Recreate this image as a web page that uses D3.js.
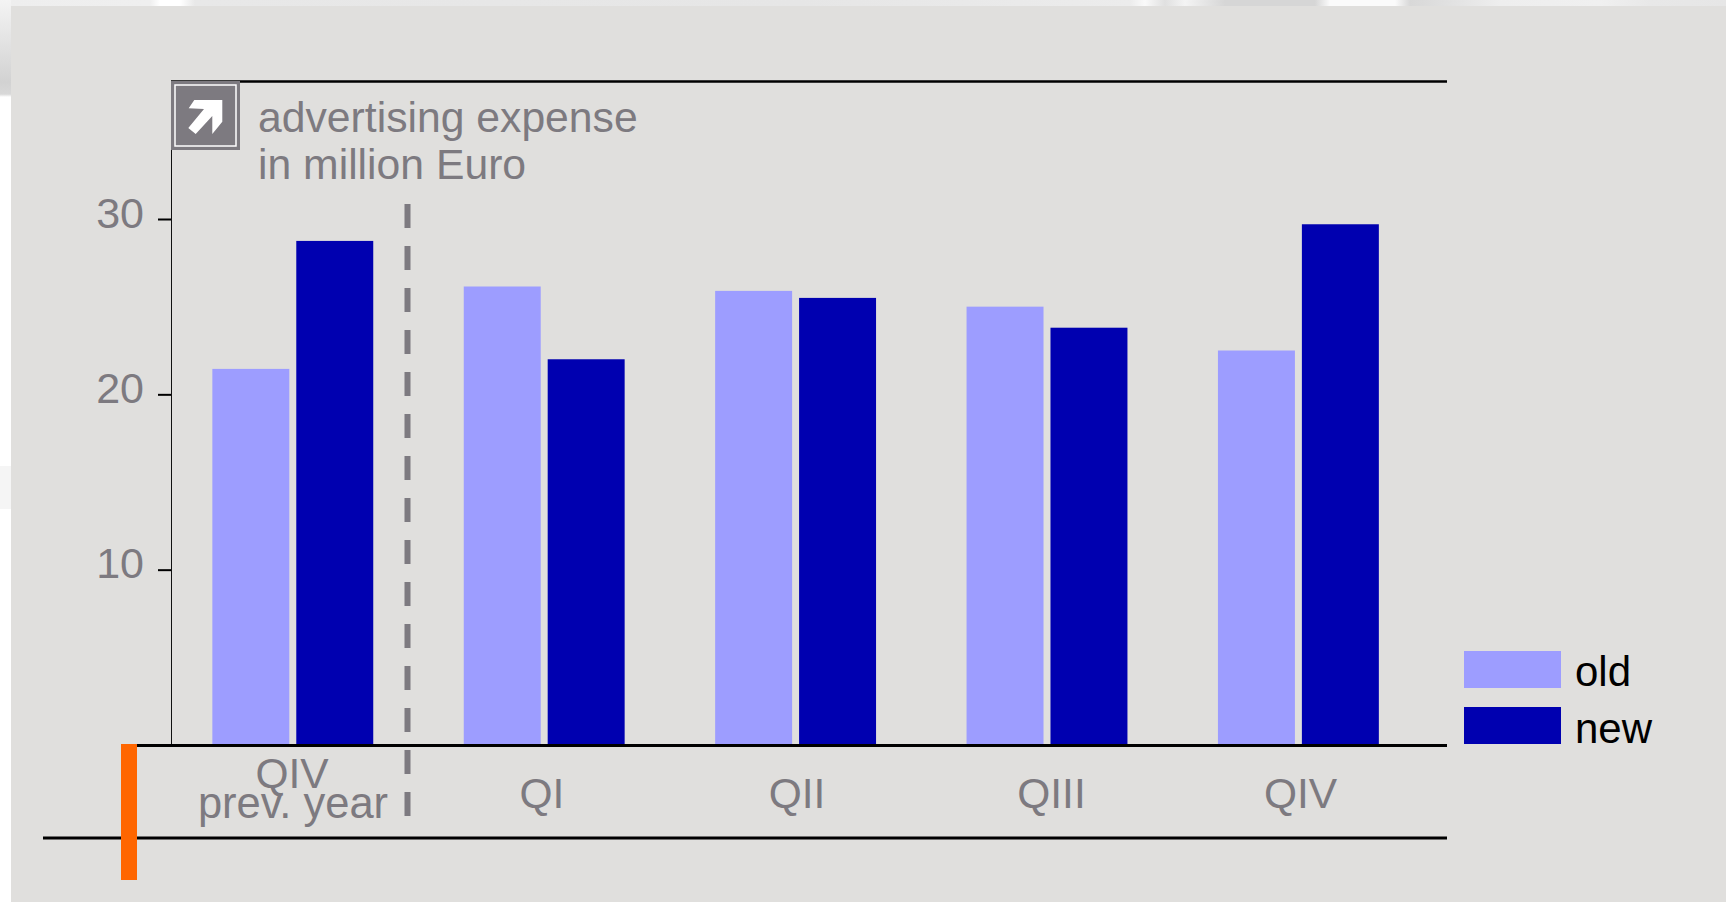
<!DOCTYPE html>
<html><head><meta charset="utf-8">
<script src="https://cdnjs.cloudflare.com/ajax/libs/d3/7.8.5/d3.min.js"></script>
<style>
html,body{margin:0;padding:0;background:#fff;overflow:hidden}
text{font-family:"Liberation Sans",Arial,sans-serif}
</style></head><body><div id="chart"></div>
<script>
const categories = ["QIV prev. year","QI","QII","QIII","QIV"];
const seriesNames = ["old","new"];
const oldValues = [21.45,26.15,25.9,25.0,22.5];
const newValues = [28.75,22.0,25.5,23.8,29.7];
const yTicks = [10,20,30];
const seriesColors = ["#9d9dff","#0000b0"];
const grey = "#7d7a80";
const W=1726,H=902;
const svg=d3.select("#chart").append("svg").attr("width",W).attr("height",H).style("display","block");
const defs=svg.append("defs");
const lg=defs.append("linearGradient").attr("id","bgL").attr("x1",0).attr("y1",0).attr("x2",0).attr("y2",1);
[[0,"#f4f4f4"],[0.85,"#d2d2d2"],[0.97,"#d8d8d8"],[1,"#ffffff"]].forEach(s=>lg.append("stop").attr("offset",s[0]).attr("stop-color",s[1]));
const tg=defs.append("linearGradient").attr("id","bgT");
[[0,"#eeeeee"],[150,"#efefef"],[160,"#ffffff"],[180,"#ffffff"],[195,"#e8e8e8"],[800,"#e6e6e6"],[1130,"#ececec"],[1145,"#fafafa"],[1165,"#e0e0e0"],[1185,"#f4f4f4"],[1225,"#d6d6d6"],[1315,"#d6d6d6"],[1330,"#fbfbfb"],[1395,"#fbfbfb"],[1410,"#d8d8d8"],[1445,"#e0e0e0"],[1500,"#eeeeee"],[1600,"#f0f0f0"],[1650,"#e8e8e8"],[1726,"#e6e6e6"]]
 .forEach(s=>tg.append("stop").attr("offset",s[0]/1726).attr("stop-color",s[1]));
svg.append("rect").attr("x",0).attr("y",0).attr("width",W).attr("height",6).attr("fill","url(#bgT)");
svg.append("rect").attr("x",0).attr("y",0).attr("width",11).attr("height",97).attr("fill","url(#bgL)");
svg.append("rect").attr("x",0).attr("y",466).attr("width",11).attr("height",43).attr("fill","#f5f5f5");
svg.append("rect").attr("x",11).attr("y",6).attr("width",W-11).attr("height",H-6).attr("fill","#e0dfdd");
const y=d3.scaleLinear().domain([0,30]).range([745,219]);
const x=d3.scaleBand().domain(categories).range([212.5-45,1379.5+45]).paddingInner(0.36).paddingOuter(0.18);
const xi=d3.scaleBand().domain(seriesNames).range([0,x.bandwidth()]).paddingInner(0.083);
const rows=categories.map((c,i)=>({c,vals:[oldValues[i],newValues[i]]}));
const g=svg.append("g").selectAll("g").data(rows).join("g").attr("transform",d=>`translate(${x(d.c)-0.4},0)`);
g.selectAll("rect").data(d=>d.vals.map((v,i)=>({v,s:seriesNames[i],i}))).join("rect")
 .attr("x",d=>xi(d.s)).attr("width",xi.bandwidth()).attr("y",d=>y(d.v)).attr("height",d=>y(0)-y(d.v)).attr("fill",d=>seriesColors[d.i]);
// y axis
const ax=svg.append("g").attr("transform","translate(171,0)").call(d3.axisLeft(y).tickValues(yTicks).tickSize(13).tickPadding(14));
ax.select(".domain").remove();
ax.selectAll("line").attr("stroke","#000").attr("stroke-width",2);
ax.selectAll("text").attr("fill",grey).attr("font-size",43).attr("dy",8).attr("font-family","Liberation Sans");
svg.append("line").attr("x1",171.5).attr("x2",171.5).attr("y1",81).attr("y2",745).attr("stroke","#111").attr("stroke-width",1);
// horizontal rules
[[171,1447,81.5,2.5],[135,1447,745.5,3],[43,1447,838,3]].forEach(r=>svg.append("line").attr("x1",r[0]).attr("x2",r[1]).attr("y1",r[2]).attr("y2",r[2]).attr("stroke","#000").attr("stroke-width",r[3]));
// orange marker
svg.append("rect").attr("x",121).attr("y",744).attr("width",16).attr("height",136).attr("fill","#ff6600");
// dashed divider
svg.append("line").attr("x1",407.5).attr("x2",407.5).attr("y1",204).attr("y2",816).attr("stroke",grey).attr("stroke-width",6).attr("stroke-dasharray","24 18");
// icon
svg.append("rect").attr("x",171).attr("y",81).attr("width",69).attr("height",69).attr("fill",grey);
svg.append("rect").attr("x",175).attr("y",85).attr("width",61).attr("height",61).attr("fill","none").attr("stroke","#fff").attr("stroke-width",1.5);
svg.append("path").attr("d","M194.3 100 L222.3 100 L222.3 121.7 L212.3 134 L212.3 116 L195.7 134 L188.3 128 L204 109 L188.7 108.3 Z").attr("fill","#fff");
// title
const t=svg.append("text").attr("fill",grey).attr("font-size",42.7);
t.append("tspan").attr("x",258).attr("y",132).text("advertising expense");
t.append("tspan").attr("x",258).attr("y",179).text("in million Euro");
// category labels
const labelLines=[["QIV","prev. year"],["QI"],["QII"],["QIII"],["QIV"]];
const labelX=[292,542,797,1051.5,1300.5];
labelLines.forEach((ls,i)=>{
  if(ls.length===2){
    svg.append("text").attr("x",labelX[i]).attr("y",788).attr("text-anchor","middle").attr("fill",grey).attr("font-size",42.5).text(ls[0]);
    svg.append("text").attr("x",labelX[i]+1).attr("y",818).attr("text-anchor","middle").attr("fill",grey).attr("font-size",43.5).text(ls[1]);
  } else {
    svg.append("text").attr("x",labelX[i]).attr("y",808).attr("text-anchor","middle").attr("fill",grey).attr("font-size",42.5).text(ls[0]);
  }
});
// legend
seriesNames.forEach((s,i)=>{
  const ly=651+i*56;
  svg.append("rect").attr("x",1464).attr("y",ly).attr("width",97).attr("height",37).attr("fill",seriesColors[i]);
  svg.append("text").attr("x",1575).attr("y",ly+35+(i?1:0)).attr("fill","#000").attr("font-size",42).text(s);
});
</script></body></html>
